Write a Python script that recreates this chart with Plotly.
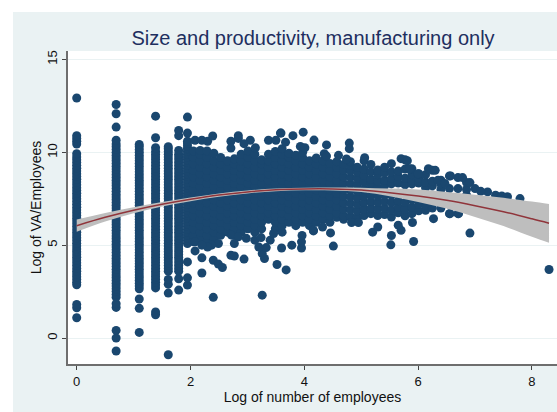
import plotly.graph_objects as go

TITLE = "Size and productivity, manufacturing only"
X_LABEL = "Log of number of employees"
Y_LABEL = "Log of VA/Employees"

x_ticks = [0, 2, 4, 6, 8]
y_ticks = [0, 5, 10, 15]

# Columns of points at small integer employee counts
col_x = [0, 0.693, 1.099, 1.386, 1.609, 1.792, 1.946]
col_y = [
    [1.09, 1.63, 1.81, 2.87, 3.0, 3.15, 3.3, 3.45, 3.6, 3.75, 3.9, 4.05, 4.2, 4.35, 4.5, 4.65, 4.8, 4.95, 5.1, 5.25, 5.4, 5.55, 5.7, 5.85, 6.0, 6.15, 6.3, 6.45, 6.6, 6.75, 6.9,
     7.05, 7.2, 7.35, 7.5, 7.65, 7.8, 7.95, 8.1, 8.25, 8.4, 8.55, 8.7, 8.85, 9.0, 9.15, 9.3, 9.45, 9.6, 9.75, 9.93, 10.45, 10.6, 10.75, 10.9, 12.93],
    [-0.7, 0.0, 0.41, 1.65, 1.85, 2.2, 2.35, 2.5, 2.65, 2.8, 2.95, 3.1, 3.25, 3.4, 3.55, 3.7, 3.85, 4.0, 4.15, 4.3, 4.45, 4.6, 4.75, 4.9, 5.05, 5.2, 5.35, 5.5, 5.65, 5.8, 5.95,
     6.1, 6.25, 6.4, 6.55, 6.7, 6.85, 7.0, 7.15, 7.3, 7.45, 7.6, 7.75, 7.9, 8.05, 8.2, 8.35, 8.5, 8.65, 8.8, 8.95, 9.1, 9.25, 9.4, 9.55, 9.7, 9.85, 10.0, 10.15, 10.3, 10.45, 10.65, 11.36, 12.08, 12.58],
    [0.3, 1.6, 2.1, 2.65, 2.8, 2.95, 3.1, 3.25, 3.4, 3.55, 3.7, 3.85, 4.0, 4.15, 4.3, 4.45, 4.6, 4.75, 4.9, 5.05, 5.2, 5.35, 5.5, 5.65, 5.8, 5.95, 6.1, 6.25, 6.4, 6.55, 6.7, 6.85,
     7.0, 7.15, 7.3, 7.45, 7.6, 7.75, 7.9, 8.05, 8.2, 8.35, 8.5, 8.65, 8.8, 8.95, 9.1, 9.25, 9.4, 9.55, 9.7, 9.85, 10.0, 10.15, 10.3, 10.43],
    [1.25, 1.4, 2.7, 2.85, 3.0, 3.15, 3.3, 3.45, 3.6, 3.75, 3.9, 4.05, 4.2, 4.35, 4.5, 4.65, 4.8, 4.95, 5.1, 5.25, 5.4, 5.55, 5.7, 5.85, 6.0, 6.15, 6.3, 6.45, 6.6, 6.75, 6.9, 7.05,
     7.2, 7.35, 7.5, 7.65, 7.8, 7.95, 8.1, 8.25, 8.4, 8.55, 8.7, 8.85, 9.0, 9.15, 9.3, 9.45, 9.6, 9.75, 9.9, 10.05, 10.25, 10.79, 11.95],
    [-0.9, 2.42, 2.9, 3.15, 3.6, 3.75, 3.9, 4.05, 4.2, 4.35, 4.5, 4.65, 4.8, 4.95, 5.1, 5.25, 5.4, 5.55, 5.7, 5.85, 6.0, 6.15, 6.3, 6.45, 6.6, 6.75, 6.9, 7.05, 7.2, 7.35, 7.5, 7.65,
     7.8, 7.95, 8.1, 8.25, 8.4, 8.55, 8.7, 8.85, 9.0, 9.15, 9.3, 9.45, 9.6, 9.75, 9.9, 10.05, 10.2, 10.3],
    [2.58, 3.19, 3.6, 3.75, 3.9, 4.05, 4.2, 4.35, 4.5, 4.65, 4.8, 4.95, 5.1, 5.25, 5.4, 5.55, 5.7, 5.85, 6.0, 6.15, 6.3, 6.45, 6.6, 6.75, 6.9, 7.05, 7.2, 7.35, 7.5, 7.65, 7.8, 7.95,
     8.1, 8.25, 8.4, 8.55, 8.7, 8.85, 9.0, 9.15, 9.3, 9.45, 9.6, 9.75, 9.9, 10.1, 10.9, 11.18],
    [2.85, 3.24, 4.1, 5.09, 5.25, 5.4, 5.55, 5.7, 5.85, 6.0, 6.15, 6.3, 6.45, 6.6, 6.75, 6.9, 7.05, 7.2, 7.35, 7.5, 7.65, 7.8, 7.95, 8.1, 8.25, 8.4, 8.55, 8.7, 8.85, 9.0, 9.15,
     9.3, 9.45, 9.6, 9.75, 9.9, 10.05, 10.2, 10.35, 10.5, 10.6, 11.04, 11.9],
]

# The dense cloud, column by column
cloud_x = [2.05, 2.17, 2.29, 2.41, 2.53, 2.65, 2.77, 2.89, 3.01, 3.13, 3.25, 3.37, 3.49, 3.61, 3.73, 3.85,
           3.97, 4.09, 4.21, 4.33, 4.45, 4.57, 4.69, 4.81, 4.93, 5.05, 5.17, 5.29, 5.41, 5.53, 5.65, 5.77, 5.89, 6.01, 6.13, 6.25, 6.4, 6.55, 6.7, 6.85]
cloud_y = [
    [5.18, 5.53, 5.88, 6.23, 6.58, 6.93, 7.28, 7.63, 7.98, 8.33, 8.68, 9.03, 9.38, 9.73, 10.08],
    [5.35, 5.7, 6.05, 6.4, 6.75, 7.1, 7.45, 7.8, 8.15, 8.5, 8.85, 9.2, 9.55, 9.9, 10.1],
    [5.18, 5.53, 5.88, 6.23, 6.58, 6.93, 7.28, 7.63, 7.98, 8.33, 8.68, 9.03, 9.38, 9.73, 10.08],
    [5.35, 5.7, 6.05, 6.4, 6.75, 7.1, 7.45, 7.8, 8.15, 8.5, 8.85, 9.2, 9.55, 9.95],
    [5.53, 5.88, 6.23, 6.58, 6.93, 7.28, 7.63, 7.98, 8.33, 8.68, 9.03, 9.38, 9.73],
    [5.7, 6.05, 6.4, 6.75, 7.1, 7.45, 7.8, 8.15, 8.5, 8.85, 9.2, 9.55],
    [5.53, 5.88, 6.23, 6.58, 6.93, 7.28, 7.63, 7.98, 8.33, 8.68, 9.03, 9.38, 9.65],
    [5.7, 6.05, 6.4, 6.75, 7.1, 7.45, 7.8, 8.15, 8.5, 8.85, 9.2, 9.55, 9.9],
    [5.88, 6.23, 6.58, 6.93, 7.28, 7.63, 7.98, 8.33, 8.68, 9.03, 9.38, 9.73, 10.08],
    [5.7, 6.05, 6.4, 6.75, 7.1, 7.45, 7.8, 8.15, 8.5, 8.85, 9.2, 9.55, 9.9],
    [5.88, 6.23, 6.58, 6.93, 7.28, 7.63, 7.98, 8.33, 8.68, 9.03, 9.38, 9.6],
    [6.4, 6.75, 7.1, 7.45, 7.8, 8.15, 8.5, 8.85, 9.2, 9.55, 9.9],
    [5.88, 6.23, 6.58, 6.93, 7.28, 7.63, 7.98, 8.33, 8.68, 9.03, 9.38, 9.73, 10.05],
    [5.7, 6.05, 6.4, 6.75, 7.1, 7.45, 7.8, 8.15, 8.5, 8.85, 9.2, 9.55, 9.9, 10.2],
    [6.23, 6.58, 6.93, 7.28, 7.63, 7.98, 8.33, 8.68, 9.03, 9.38, 9.73, 9.95],
    [6.05, 6.4, 6.75, 7.1, 7.45, 7.8, 8.15, 8.5, 8.85, 9.2, 9.55, 9.85],
    [6.23, 6.58, 6.93, 7.28, 7.63, 7.98, 8.33, 8.68, 9.03, 9.38, 9.73, 10.0],
    [6.05, 6.4, 6.75, 7.1, 7.45, 7.8, 8.15, 8.5, 8.85, 9.2, 9.55],
    [6.23, 6.58, 6.93, 7.28, 7.63, 7.98, 8.33, 8.68, 9.03, 9.38, 9.7],
    [6.4, 6.75, 7.1, 7.45, 7.8, 8.15, 8.5, 8.85, 9.2, 9.55],
    [6.23, 6.58, 6.93, 7.28, 7.63, 7.98, 8.33, 8.68, 9.03, 9.4],
    [6.5, 6.75, 7.1, 7.45, 7.8, 8.15, 8.5, 8.85, 9.2, 9.5],
    [6.4, 6.58, 6.93, 7.28, 7.63, 7.98, 8.33, 8.68, 9.03, 9.35],
    [6.55, 6.9, 7.25, 7.6, 7.95, 8.3, 8.65, 9.0, 9.3, 9.5],
    [6.5, 6.85, 7.2, 7.55, 7.9, 8.25, 8.6, 8.95, 9.2],
    [6.6, 6.95, 7.3, 7.65, 8.0, 8.4, 8.75, 9.1, 9.55],
    [6.7, 7.0, 7.35, 7.7, 8.05, 8.3, 8.55, 8.95, 9.35],
    [6.6, 6.95, 7.3, 7.65, 8.1, 8.45, 8.8, 9.05],
    [6.65, 7.0, 7.35, 7.7, 8.2, 8.5, 8.9, 9.2],
    [6.52, 6.9, 7.3, 7.7, 8.3, 8.6, 8.95, 9.39],
    [6.75, 7.05, 7.4, 7.8, 8.35, 8.7, 9.0],
    [6.58, 6.95, 7.3, 7.75, 8.25, 8.6, 9.1, 9.6],
    [6.7, 7.05, 7.45, 8.3, 8.5, 8.8, 9.12],
    [6.85, 7.2, 7.6, 8.35, 8.6, 8.85],
    [6.88, 7.15, 7.55, 8.1, 8.4, 8.8],
    [7.0, 7.3, 7.7, 8.2, 8.45, 9.03],
    [7.0, 7.4, 8.0, 8.5, 8.3],
    [6.7, 7.2, 7.6, 8.05, 8.73],
    [6.7, 7.15, 7.5, 8.05, 8.64],
    [7.3, 7.7, 8.0, 8.37],
]

# Points that stand apart from the cloud
stray_x = [2.08, 2.2, 2.2, 2.4, 2.49, 2.56, 2.4, 2.71, 2.77, 2.94, 3.26, 3.3, 3.26, 3.33, 3.52, 3.68, 3.6, 3.78, 3.95,
           3.95, 3.96, 4.16, 4.51, 4.46, 4.16, 4.32, 5.2, 5.29, 5.53, 5.52, 5.92, 5.9, 5.65, 5.7, 6.27, 6.56, 6.71, 6.91,
           8.3, 4.83, 4.95, 2.98, 3.13, 3.24, 3.2, 3.4, 3.46, 2.72, 2.84, 2.77, 2.49, 2.37, 2.3, 2.08, 2.2,
           3.59, 3.8, 3.98, 4.17, 4.39, 4.79, 4.79, 4.35, 4.39, 4.6, 4.74, 5.06, 5.7, 5.81, 5.85, 6.0, 6.18, 6.3, 6.57,
           6.78, 6.91, 7.22, 7.79, 7.36, 7.47, 7.57, 7.0, 7.1, 6.35, 6.47,
           2.08, 2.2, 2.3, 2.39, 2.71, 2.71, 2.84, 2.84, 3.05, 2.94, 3.14, 3.37, 3.5, 3.58, 3.67, 3.93, 4.01]
stray_y = [4.69, 4.32, 3.5, 4.19, 3.98, 3.8, 2.19, 4.46, 4.42, 4.25, 2.31, 4.28, 4.55, 4.87, 3.96, 3.67, 4.85, 5.0, 4.85,
           5.18, 5.52, 5.77, 4.95, 5.66, 5.8, 5.98, 5.7, 5.98, 5.52, 5.02, 5.2, 6.22, 6.08, 5.8, 6.43, 6.7, 6.7, 5.65,
           3.69, 6.22, 6.22, 5.37, 5.27, 5.41, 4.9, 5.27, 5.63, 5.54, 5.45, 5.09, 5.09, 5.0, 4.9, 5.18, 5.0,
           11.04, 10.9, 11.09, 10.66, 10.4, 10.5, 10.2, 9.93, 9.8, 9.84, 9.64, 9.71, 9.66, 9.55, 9.12, 8.85, 9.12, 9.03, 8.73,
           8.64, 8.37, 7.87, 7.51, 7.69, 7.65, 7.61, 8.05, 7.9, 8.5, 8.32,
           10.65, 10.65, 10.6, 10.88, 10.6, 10.23, 10.9, 10.75, 10.65, 10.47, 10.25, 10.65, 10.65, 11.04, 10.55, 10.32, 10.25]

# Fitted curve and its confidence band
fit_x = [0, 0.5, 1, 1.5, 2, 2.5, 3, 3.5, 4, 4.5, 5, 5.5, 6, 6.5, 7, 7.5, 8, 8.3]
fit_y = [6.05, 6.5, 6.88, 7.2, 7.47, 7.7, 7.87, 7.98, 8.03, 8.03, 7.97, 7.83, 7.65, 7.42, 7.13, 6.8, 6.42, 6.18]
fit_lo = [5.72, 6.27, 6.72, 7.08, 7.37, 7.61, 7.79, 7.91, 7.96, 7.95, 7.86, 7.64, 7.33, 6.97, 6.52, 6.03, 5.45, 5.13]
fit_hi = [6.38, 6.73, 7.04, 7.32, 7.57, 7.79, 7.95, 8.05, 8.1, 8.11, 8.1, 8.05, 8.0, 7.87, 7.72, 7.55, 7.35, 7.22]

NAVY = "#1A476F"
BAND = "#BEBEBE"
RED = "#90353B"
PAPER = "#EAF2F3"
AXIS = "#6E6E6E"
TEXT = "#111111"
FONT = "Liberation Sans"

xs, ys = [], []
for x, vals in zip(col_x, col_y):
    xs += [x] * len(vals)
    ys += vals
for x, vals in zip(cloud_x, cloud_y):
    xs += [x] * len(vals)
    ys += vals
xs += stray_x
ys += stray_y

fig = go.Figure()
fig.add_trace(go.Scatter(x=xs, y=ys, mode="markers",
                         marker=dict(color=NAVY, size=9, line=dict(width=0)),
                         hoverinfo="skip", showlegend=False))
fig.add_trace(go.Scatter(x=fit_x, y=fit_hi, mode="lines", line=dict(width=0, color=BAND, shape="spline"),
                         hoverinfo="skip", showlegend=False))
fig.add_trace(go.Scatter(x=fit_x, y=fit_lo, mode="lines", line=dict(width=0, color=BAND, shape="spline"),
                         fill="tonexty", fillcolor=BAND, hoverinfo="skip", showlegend=False))
fig.add_trace(go.Scatter(x=fit_x, y=fit_y, mode="lines", line=dict(width=1.5, color=RED, shape="spline"),
                         hoverinfo="skip", showlegend=False))

W, H = 557, 412
L, R, T, B = 68, 0, 51, 48
pw, ph = W - L - R, H - T - B


def px(v):
    return (v - L) / pw


def py(v):
    return (H - B - v) / ph


fig.update_layout(
    width=W, height=H,
    margin=dict(l=L, r=R, t=T, b=B, pad=0),
    paper_bgcolor=PAPER, plot_bgcolor="white",
    font=dict(family=FONT, size=12, color=TEXT),
    title=dict(text=TITLE, x=313 / W, xanchor="center", y=1 - 38 / H, yanchor="middle",
               font=dict(family=FONT, size=20, color="#1E2F5F")),
    shapes=[
        dict(type="rect", xref="paper", yref="paper", x0=px(0), x1=px(13), y0=py(H), y1=py(0),
             fillcolor="white", line=dict(width=0), layer="below"),
        dict(type="rect", xref="paper", yref="paper", x0=px(0), x1=px(W), y0=py(12), y1=py(0),
             fillcolor="white", line=dict(width=0), layer="below"),
    ],
    xaxis=dict(range=[-0.153, 8.44], tickmode="array", tickvals=x_ticks, ticktext=[str(v) for v in x_ticks],
               showgrid=False, zeroline=False, showline=True, linecolor=AXIS, linewidth=2,
               ticks="outside", ticklen=4, tickwidth=1, tickcolor="#444444",
               tickfont=dict(size=13), title=dict(text=X_LABEL, font=dict(size=14), standoff=0)),
    yaxis=dict(range=[-1.4, 15.46], tickmode="array", tickvals=y_ticks, ticktext=[str(v) for v in y_ticks],
               showgrid=True, gridcolor=PAPER, gridwidth=1, zeroline=False, showline=True, linecolor=AXIS, linewidth=2,
               ticks="outside", ticklen=4, tickwidth=1, tickcolor="#444444", tickangle=-90,
               tickfont=dict(size=13), title=dict(text=Y_LABEL, font=dict(size=14), standoff=0)),
)

fig.write_html("out.html", config=dict(displayModeBar=False),
               post_script="document.body.style.margin='0';document.body.style.overflow='hidden';")
